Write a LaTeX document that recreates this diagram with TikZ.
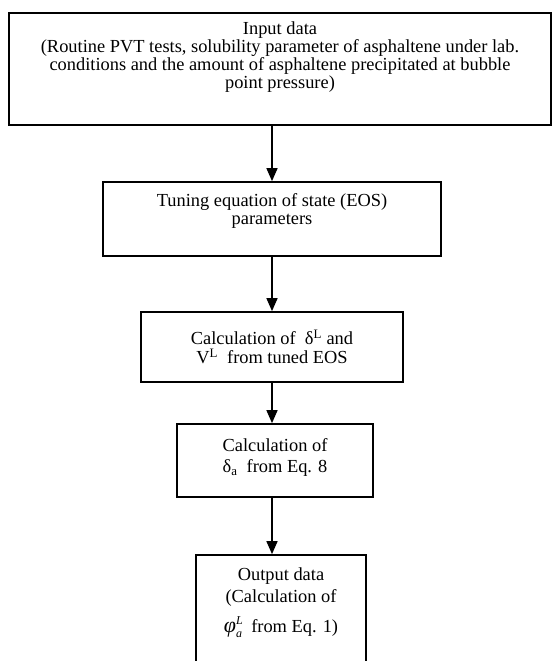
\documentclass[tikz,border=0pt]{standalone}
\usepackage{fontspec}
\setmainfont{Liberation Serif}
\usetikzlibrary{arrows.meta}
\begin{document}
\begin{tikzpicture}[x=1pt,y=1pt,
  boxnode/.style={draw=black,line width=1.7pt,rectangle,inner sep=0pt},
  txt/.style={align=center,inner sep=0pt,anchor=north,font=\fontsize{18.4}{17.9}\selectfont},
  arr/.style={line width=1.5pt,-{Triangle[width=11pt,length=13pt]}}]
\useasboundingbox (0,0) rectangle (552,-661);
\clip (0,0) rectangle (552,-661);
% boxes
\node[boxnode,minimum width=542pt,minimum height=112pt] (inp) at (280,-69) {};
\node[boxnode,minimum width=338pt,minimum height=74pt] (tune) at (272,-219) {};
\node[boxnode,minimum width=262pt,minimum height=70pt] (calc1) at (272,-347) {};
\node[boxnode,minimum width=196pt,minimum height=73pt] (calc2) at (275,-460.5) {};
\node[boxnode,minimum width=170pt,minimum height=125pt] (outb) at (281,-617.5) {};
% texts
\node[txt] (tinp) at (280,-21.5) {Input data\\(Routine PVT tests, solubility parameter of asphaltene under lab.\\conditions and the amount of asphaltene precipitated at bubble\\point pressure)};
\node[txt] (ttune) at (272,-193.5) {Tuning equation of state (EOS)\\parameters};
\node[txt] (tcalc1) at (272,-330) {Calculation of~ δ\textsuperscript{L} and\\[1pt]V\textsuperscript{L}~ from tuned EOS};
\node[txt] (tcalc2) at (275,-438) {Calculation of\\[3.5pt]δ\textsubscript{a}~ from Eq. 8};
\node[txt] (tout) at (281,-568) {Output data\\[4pt](Calculation of\\[9pt]{\itshape{\fontsize{22}{22}\selectfont φ}\rlap{\raisebox{8pt}{\fontsize{12}{12}\selectfont L}}\raisebox{-5pt}{\fontsize{12}{12}\selectfont a}}~ from Eq. 1)};
% connectors
\draw[arr] (inp.south -| tune.north) -- (tune.north);
\draw[arr] (tune.south) -- (calc1.north);
\draw[arr] (calc1.south) -- (calc2.north -| calc1.south);
\draw[arr] (calc2.south -| calc1.south) -- (outb.north -| calc1.south);
\end{tikzpicture}
\end{document}
